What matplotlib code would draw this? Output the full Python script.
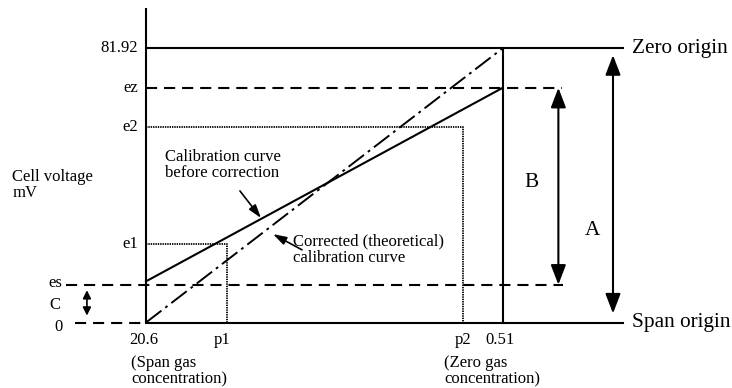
import numpy as np
import matplotlib
matplotlib.use("Agg")
import matplotlib.pyplot as plt

plt.rcParams["font.family"] = ["Liberation Serif", "DejaVu Serif"]
plt.rcParams["lines.scale_dashes"] = False

# Gas concentrations (% O2) along the horizontal axis (log scale, reversed)
span_conc = 20.6
zero_conc = 0.51
p1_conc = 8.92
p2_conc = 0.767

# Cell voltage levels (mV)
zero_mv = 0.0
es_mv = 11.3
e1_mv = 23.6
e2_mv = 58.4
ez_mv = 70.1
full_mv = 81.92
before_span_mv = 12.3   # uncorrected curve at span gas

y_tick_labels = ["81.92", "ez", "e2", "e1"]
y_tick_values = [full_mv, ez_mv, e2_mv, e1_mv]
x_tick_labels = ["20.6", "p1", "p2", "0.51"]
x_tick_concs = [span_conc, p1_conc, p2_conc, zero_conc]


def u(conc):
    """Position on the log-concentration axis, 0 at span gas."""
    return np.log10(span_conc / np.asarray(conc, dtype=float))


fig = plt.figure(figsize=(7.32, 3.88), dpi=100)
ax = fig.add_axes([0, 0, 1, 1])
ax.set_xlim(-0.6575, 2.6389)
ax.set_ylim(-19.56, 96.33)
ax.axis("off")

k = "black"
lw = 1.5
dash = (0, (8.0, 5.0))
dot = (0, (1.0, 0.7))

uz = u(zero_conc)
us = u(span_conc)
right_end = 2.148

# vertical axis and 0.51 line
ax.plot([us, us], [zero_mv, 93.9], color=k, lw=lw, solid_capstyle="butt")
ax.plot([uz, uz], [zero_mv, full_mv], color=k, lw=lw)

# zero origin / span origin lines
ax.plot([us, right_end], [full_mv, full_mv], color=k, lw=lw)
ax.plot([us, right_end], [zero_mv, zero_mv], color=k, lw=lw)
ax.plot([-0.320, us], [zero_mv, zero_mv], color=k, lw=lw, linestyle=dash)

# es and ez dashed levels
ax.plot([-0.360, 1.878], [es_mv, es_mv], color=k, lw=lw, linestyle=dash)
ax.plot([us, 1.873], [ez_mv, ez_mv], color=k, lw=lw, linestyle=dash)

# dotted guides to e1/p1 and e2/p2
for conc, mv in [(p1_conc, e1_mv), (p2_conc, e2_mv)]:
    ax.plot([us, u(conc), u(conc)], [mv, mv, zero_mv], color=k, lw=1.3,
            linestyle=dot)

# calibration curve before correction
ax.plot(u([span_conc, zero_conc]), [before_span_mv, ez_mv], color=k, lw=lw)
# corrected (theoretical) calibration curve
ax.plot(u([span_conc, zero_conc]), [zero_mv, full_mv], color=k, lw=1.4,
        linestyle=(0, (14, 3.5, 2, 3.5)))

# double-headed arrows A, B, C
big = dict(arrowstyle="<|-|>,head_length=0.6,head_width=0.23",
           mutation_scale=20, color=k, lw=lw)
ax.annotate("", xy=(2.103, full_mv), xytext=(2.103, zero_mv),
            arrowprops=dict(big, shrinkA=6.5, shrinkB=5))
ax.annotate("", xy=(1.857, ez_mv), xytext=(1.857, es_mv),
            arrowprops=dict(big, shrinkA=0, shrinkB=0))
ax.annotate("", xy=(-0.266, es_mv), xytext=(-0.266, zero_mv),
            arrowprops=dict(arrowstyle="<|-|>,head_length=0.6,head_width=0.3",
                            mutation_scale=8, color=k, lw=1.2,
                            shrinkA=5, shrinkB=4))

# pointer arrows for the curve labels
ptr = dict(arrowstyle="-|>,head_length=0.8,head_width=0.25",
           mutation_scale=10, color=k, lw=1.2, shrinkA=0, shrinkB=0)
ax.annotate("", xy=(0.518, 31.2), xytext=(0.423, 39.3), arrowprops=ptr)
ax.annotate("", xy=(0.572, 26.4), xytext=(0.7025, 21.7), arrowprops=ptr)

fs = 12
big_fs = 15.3

# vertical tick labels
for lab, mv in zip(y_tick_labels, y_tick_values):
    ax.text(-0.036, mv, lab, ha="right", va="center", fontsize=fs)
ax.text(-0.378, 11.8, "es", ha="right", va="center", fontsize=fs)
ax.text(-0.410, 5.2, "C", ha="center", va="center", fontsize=fs)
ax.text(-0.396, -1.3, "0", ha="center", va="center", fontsize=fs)

# horizontal tick labels
x_offsets = [-0.009, -0.02, 0.0, -0.01]
for lab, conc, off in zip(x_tick_labels, x_tick_concs, x_offsets):
    ax.text(u(conc) + off, -5.2, lab, ha="center", va="center", fontsize=fs)

ax.text(-0.068, -14.6, "(Span gas\nconcentration)", ha="left", va="center",
        fontsize=fs, linespacing=1.0)
ax.text(1.342, -14.6, "(Zero gas\nconcentration)", ha="left", va="center",
        fontsize=fs, linespacing=1.0)

ax.text(-0.603, 41.1, "Cell voltage\nmV", ha="left", va="center",
        fontsize=fs, linespacing=1.0)

ax.text(0.0856, 47.0, "Calibration curve\nbefore correction", ha="left",
        va="center", fontsize=fs, linespacing=1.0)
ax.text(0.662, 21.7, "Corrected (theoretical)\ncalibration curve", ha="left",
        va="center", fontsize=fs, linespacing=1.0)

ax.text(2.189, full_mv, "Zero origin", ha="left", va="center", fontsize=big_fs)
ax.text(2.189, zero_mv, "Span origin", ha="left", va="center", fontsize=big_fs)
ax.text(1.738, 41.7, "B", ha="center", va="center", fontsize=big_fs)
ax.text(2.012, 27.4, "A", ha="center", va="center", fontsize=big_fs)

fig.savefig("out.png", dpi=100)
